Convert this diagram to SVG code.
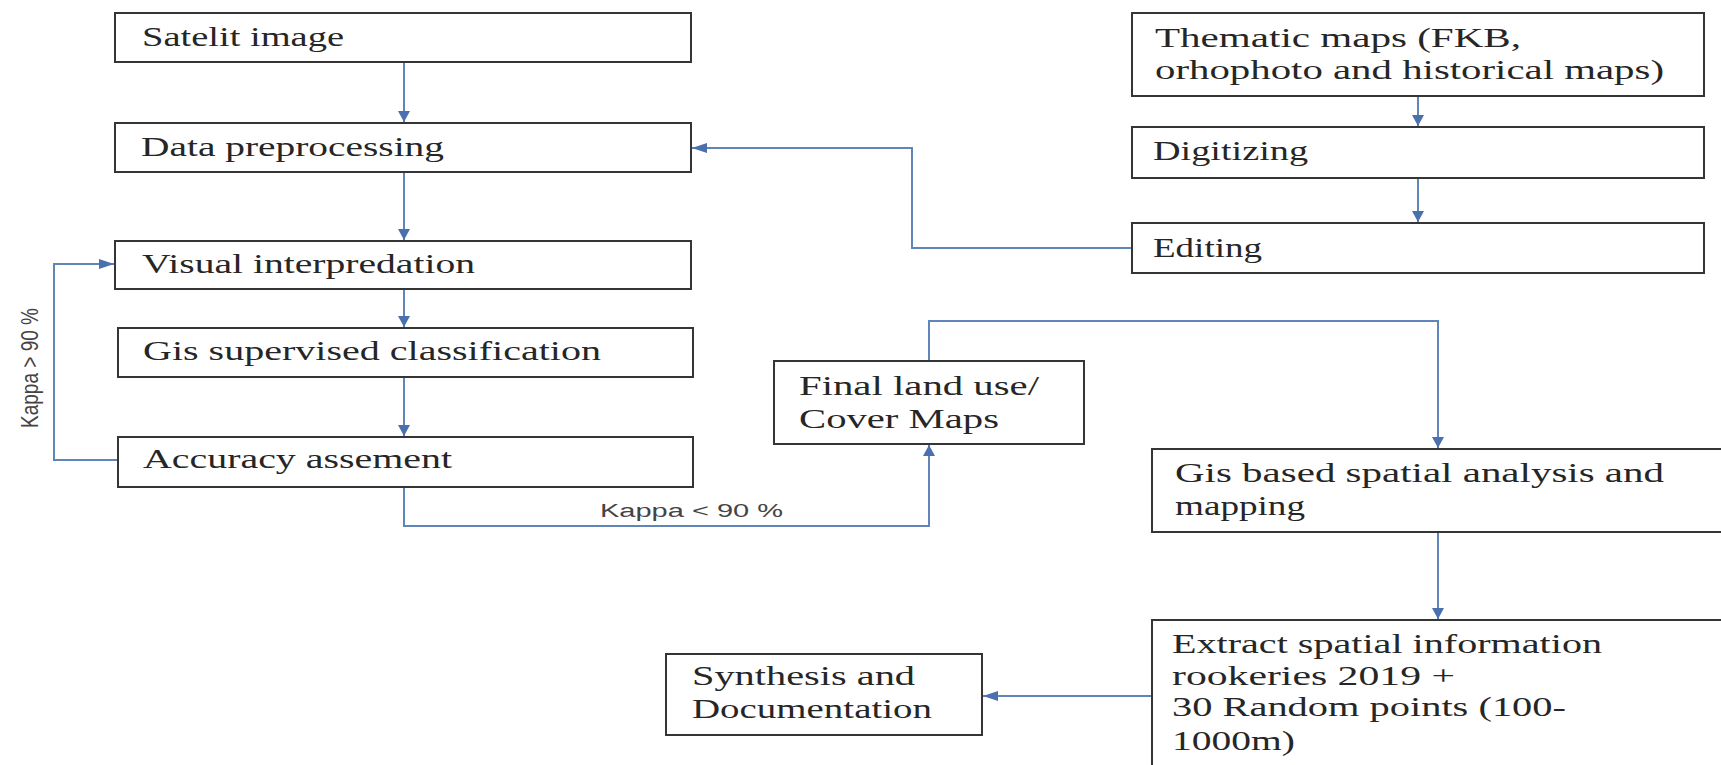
<svg xmlns="http://www.w3.org/2000/svg" width="1721" height="765" viewBox="0 0 1721 765">
<style>
  .box { fill: #ffffff; stroke: #353535; stroke-width: 2; }
  .t { font-family: "Liberation Serif", "Times New Roman", serif; font-size: 27px; fill: #262626; }
  .lbl { font-family: "Liberation Sans", Arial, sans-serif; font-size: 18px; fill: #444444; }
  .conn { fill: none; stroke: #5f86b8; stroke-width: 2; }
</style>
<defs>
  <marker id="arrV" markerUnits="userSpaceOnUse" markerWidth="12" markerHeight="12" viewBox="0 0 11 12" refX="11" refY="6" orient="auto">
    <path d="M0,0 L11,6 L0,12 z" fill="#4a70ad"/>
  </marker>
  <marker id="arrH" markerUnits="userSpaceOnUse" markerWidth="15" markerHeight="10" viewBox="0 0 15 10" refX="15" refY="5" orient="auto">
    <path d="M0,0 L15,5 L0,10 z" fill="#4a70ad"/>
  </marker>
</defs>
<rect width="1721" height="765" fill="#ffffff"/>

<g id="connectors">
  <path class="conn" d="M404,62 V122" marker-end="url(#arrV)"/>
  <path class="conn" d="M404,172 V240" marker-end="url(#arrV)"/>
  <path class="conn" d="M404,289 V327" marker-end="url(#arrV)"/>
  <path class="conn" d="M404,377 V436" marker-end="url(#arrV)"/>
  <path class="conn" d="M118,460 H54 V264 H114" marker-end="url(#arrH)"/>
  <path class="conn" d="M404,487 V526 H929 V445" marker-end="url(#arrV)"/>
  <path class="conn" d="M929,361 V321 H1438 V448" marker-end="url(#arrV)"/>
  <path class="conn" d="M1418,96 V126" marker-end="url(#arrV)"/>
  <path class="conn" d="M1418,178 V222" marker-end="url(#arrV)"/>
  <path class="conn" d="M1132,248 H912 V148 H692" marker-end="url(#arrH)"/>
  <path class="conn" d="M1438,532 V619" marker-end="url(#arrV)"/>
  <path class="conn" d="M1152,696 H983" marker-end="url(#arrH)"/>
  <text class="lbl" x="600" y="517" textLength="183" lengthAdjust="spacingAndGlyphs">Kappa &lt; 90 %</text>
  <text class="lbl" font-size="19" text-anchor="middle" transform="translate(38,368) scale(1.35,1) rotate(-90)" textLength="120" lengthAdjust="spacingAndGlyphs">Kappa &gt; 90 %</text>
</g>

<g id="satelit">
  <rect class="box" x="115" y="13" width="576" height="49"/>
  <text class="t" x="142" y="46" textLength="202" lengthAdjust="spacingAndGlyphs">Satelit  image</text>
</g>
<g id="preprocessing">
  <rect class="box" x="115" y="123" width="576" height="49"/>
  <text class="t" x="141" y="156" textLength="303" lengthAdjust="spacingAndGlyphs">Data preprocessing</text>
</g>
<g id="visual">
  <rect class="box" x="115" y="241" width="576" height="48"/>
  <text class="t" x="142" y="273" textLength="333" lengthAdjust="spacingAndGlyphs">Visual  interpredation</text>
</g>
<g id="supervised">
  <rect class="box" x="118" y="328" width="575" height="49"/>
  <text class="t" x="143" y="360" textLength="458" lengthAdjust="spacingAndGlyphs">Gis  supervised  classification</text>
</g>
<g id="accuracy">
  <rect class="box" x="118" y="437" width="575" height="50"/>
  <text class="t" x="143" y="468" textLength="309" lengthAdjust="spacingAndGlyphs">Accuracy  assement</text>
</g>
<g id="thematic">
  <rect class="box" x="1132" y="13" width="572" height="83"/>
  <text class="t" x="1155" y="47" textLength="366" lengthAdjust="spacingAndGlyphs">Thematic  maps (FKB,</text>
  <text class="t" x="1155" y="79" textLength="509" lengthAdjust="spacingAndGlyphs">orhophoto  and historical  maps)</text>
</g>
<g id="digitizing">
  <rect class="box" x="1132" y="127" width="572" height="51"/>
  <text class="t" x="1153" y="160" textLength="155" lengthAdjust="spacingAndGlyphs">Digitizing</text>
</g>
<g id="editing">
  <rect class="box" x="1132" y="223" width="572" height="50"/>
  <text class="t" x="1153" y="257" textLength="109" lengthAdjust="spacingAndGlyphs">Editing</text>
</g>
<g id="final">
  <rect class="box" x="774" y="361" width="310" height="83"/>
  <text class="t" x="799" y="395" textLength="240" lengthAdjust="spacingAndGlyphs">Final  land  use/</text>
  <text class="t" x="799" y="428" textLength="200" lengthAdjust="spacingAndGlyphs">Cover Maps</text>
</g>
<g id="gisbased">
  <rect class="box" x="1152" y="449" width="580" height="83"/>
  <text class="t" x="1175" y="482" textLength="489" lengthAdjust="spacingAndGlyphs">Gis based spatial  analysis  and</text>
  <text class="t" x="1175" y="515" textLength="130" lengthAdjust="spacingAndGlyphs">mapping</text>
</g>
<g id="extract">
  <rect class="box" x="1152" y="620" width="580" height="160"/>
  <text class="t" x="1172" y="653" textLength="430" lengthAdjust="spacingAndGlyphs">Extract spatial information</text>
  <text class="t" x="1172" y="685" textLength="283" lengthAdjust="spacingAndGlyphs">rookeries 2019 +</text>
  <text class="t" x="1172" y="716" textLength="394" lengthAdjust="spacingAndGlyphs">30 Random points (100-</text>
  <text class="t" x="1172" y="750" textLength="123" lengthAdjust="spacingAndGlyphs">1000m)</text>
</g>
<g id="synthesis">
  <rect class="box" x="666" y="654" width="316" height="81"/>
  <text class="t" x="692" y="685" textLength="223" lengthAdjust="spacingAndGlyphs">Synthesis  and</text>
  <text class="t" x="692" y="718" textLength="240" lengthAdjust="spacingAndGlyphs">Documentation</text>
</g>
</svg>
